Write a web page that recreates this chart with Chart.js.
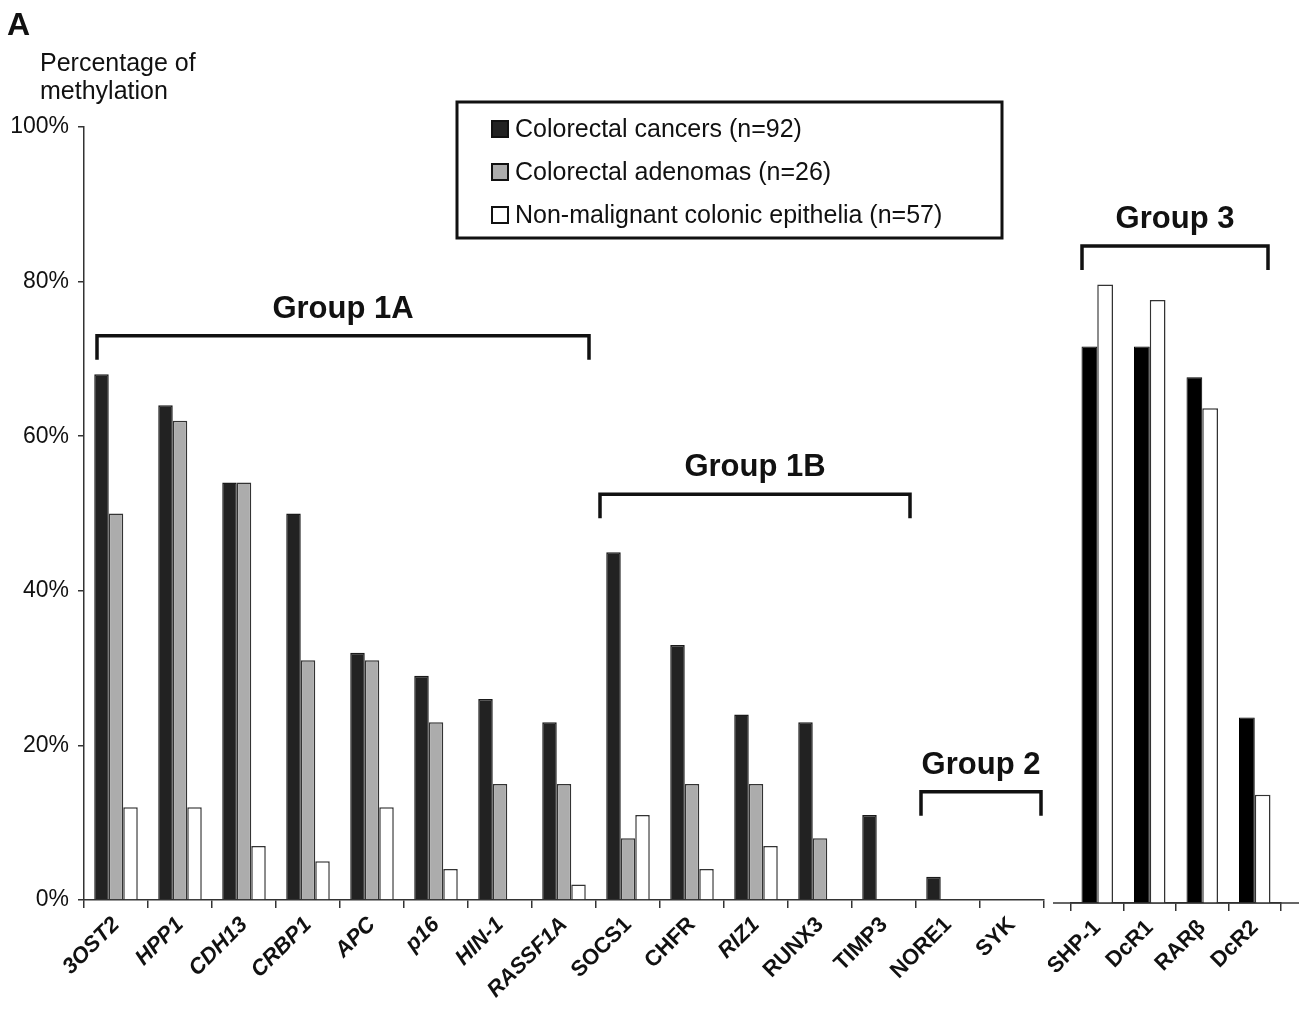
<!DOCTYPE html>
<html>
<head>
<meta charset="utf-8">
<script src="https://cdn.jsdelivr.net/npm/chart.js@4.4.0/dist/chart.umd.min.js"></script>
<style>
  html, body { margin: 0; padding: 0; background: #fff; }
  #wrap { position: relative; width: 1299px; height: 1017px; overflow: hidden; background: #fff; }
  #mainChart { position: absolute; left: 0; top: 0; }
  #sideChart { position: absolute; left: 1048px; top: 0; }
</style>
</head>
<body>
<div id="wrap">
  <canvas id="mainChart" width="1048" height="1017"></canvas>
  <canvas id="sideChart" width="251" height="1017"></canvas>
</div>
<script>
// donnees (pourcentage de methylation)
const genes = ['3OST2', 'HPP1', 'CDH13', 'CRBP1', 'APC', 'p16', 'HIN-1', 'RASSF1A',
               'SOCS1', 'CHFR', 'RIZ1', 'RUNX3', 'TIMP3', 'NORE1', 'SYK'];
const cancers  = [68, 64, 54, 50, 32, 29, 26, 23, 45, 33, 24, 23, 11, 3, 0];
const adenomas = [50, 62, 54, 31, 31, 23, 15, 15, 8, 15, 15, 8, 0, 0, 0];
const normals  = [12, 12, 7, 5, 12, 4, 0, 2, 11, 4, 7, 0, 0, 0, 0];

const group3Genes   = ['SHP-1', 'DcR1', 'RARβ', 'DcR2'];
const group3Cancers = [72, 72, 68, 24];
const group3Normals = [80, 78, 64, 14];

const yTicks = [0, 20, 40, 60, 80, 100];
const seriesLabels = ['Colorectal cancers (n=92)', 'Colorectal adenomas (n=26)', 'Non-malignant colonic epithelia (n=57)'];

// styles
const FONT = "'Liberation Sans', Arial, sans-serif";
const colBlack = '#222222';
const colGrey = '#acacac';
const colWhite = '#ffffff';
const italicGenes = ['3OST2', 'HPP1', 'CDH13', 'CRBP1', 'APC', 'p16', 'HIN-1', 'RASSF1A', 'RIZ1'];

// accolades des groupes (index de categories, niveau en %)
const mainGroups = [
  { name: 'Group 1A', from: 0, to: 7, level: 73, inL: 13, inR: 7 },
  { name: 'Group 1B', from: 8, to: 12, level: 52.5, inL: 4, inR: 6 },
  { name: 'Group 2', from: 13, to: 14, level: 14, inL: 5, inR: 3 }
];
const sideGroups = [
  { name: 'Group 3', from: 0, to: 3, level: 85, inL: 11, inR: 13 }
];

function drawBracket(ctx, chart, g) {
  const x = chart.scales.x, y = chart.scales.y;
  const half = (x.getPixelForValue(1) - x.getPixelForValue(0)) / 2;
  const left = x.getPixelForValue(g.from) - half + g.inL;
  const right = x.getPixelForValue(g.to) + half - g.inR;
  const top = y.getPixelForValue(g.level);
  ctx.save();
  ctx.strokeStyle = '#111';
  ctx.lineWidth = 3.5;
  ctx.lineJoin = 'miter';
  ctx.beginPath();
  ctx.moveTo(left, top + 24);
  ctx.lineTo(left, top);
  ctx.lineTo(right, top);
  ctx.lineTo(right, top + 24);
  ctx.stroke();
  ctx.fillStyle = '#111';
  ctx.font = 'bold 31px ' + FONT;
  ctx.textAlign = 'center';
  ctx.textBaseline = 'alphabetic';
  ctx.fillText(g.name, (left + right) / 2, top - 18);
  ctx.restore();
}

const mainDecor = {
  id: 'mainDecor',
  afterDraw(chart) {
    const ctx = chart.ctx;
    ctx.save();
    ctx.fillStyle = '#111';
    ctx.textAlign = 'left';
    ctx.textBaseline = 'alphabetic';
    ctx.font = 'bold 32px ' + FONT;
    ctx.fillText('A', 7, 35);
    ctx.font = '25px ' + FONT;
    ctx.fillText('Percentage of', 40, 71);
    ctx.fillText('methylation', 40, 99);

    // legende encadree
    ctx.strokeStyle = '#111';
    ctx.lineWidth = 3;
    ctx.strokeRect(457, 102, 545, 136);
    const colors = [colBlack, colGrey, colWhite];
    const rows = [129, 172, 215];
    ctx.font = '25px ' + FONT;
    ctx.textBaseline = 'middle';
    seriesLabels.forEach((lab, i) => {
      ctx.fillStyle = colors[i];
      ctx.fillRect(492, rows[i] - 8, 16, 16);
      ctx.lineWidth = 2;
      ctx.strokeStyle = '#111';
      ctx.strokeRect(492, rows[i] - 8, 16, 16);
      ctx.fillStyle = '#111';
      ctx.fillText(lab, 515, rows[i] + 1);
    });
    ctx.restore();

    mainGroups.forEach(g => drawBracket(ctx, chart, g));
  }
};

const sideDecor = {
  id: 'sideDecor',
  afterDraw(chart) {
    const ctx = chart.ctx;
    const y0 = chart.scales.y.getPixelForValue(0);
    ctx.save();
    ctx.strokeStyle = '#333';
    ctx.lineWidth = 1.5;
    ctx.beginPath();
    ctx.moveTo(5, y0);
    ctx.lineTo(chart.width, y0);
    ctx.stroke();
    ctx.restore();
    sideGroups.forEach(g => drawBracket(ctx, chart, g));
  }
};

const zeroless = c => (c.raw === 0 ? 0 : 1.5);

new Chart(document.getElementById('mainChart'), {
  type: 'bar',
  data: {
    labels: genes,
    datasets: [
      { label: seriesLabels[0], data: cancers, backgroundColor: colBlack, borderColor: '#1a1a1a', borderWidth: zeroless },
      { label: seriesLabels[1], data: adenomas, backgroundColor: colGrey, borderColor: '#333', borderWidth: zeroless },
      { label: seriesLabels[2], data: normals, backgroundColor: colWhite, borderColor: '#333', borderWidth: zeroless }
    ]
  },
  options: {
    responsive: false,
    animation: false,
    devicePixelRatio: 1,
    layout: { padding: { top: 127, right: 4, left: 0, bottom: 0 } },
    datasets: { bar: { categoryPercentage: 0.68, barPercentage: 1 } },
    plugins: { legend: { display: false }, tooltip: { enabled: false } },
    scales: {
      x: {
        grid: { offset: true, drawOnChartArea: false, drawTicks: true, tickLength: 8, color: '#333', lineWidth: 1.5 },
        border: { display: true, color: '#333', width: 1.5 },
        ticks: {
          autoSkip: false, maxRotation: 45, minRotation: 45, color: '#111', padding: 4,
          font: c => ({ family: FONT, size: 22, weight: 'bold',
                        style: italicGenes.includes(genes[c.index]) ? 'italic' : 'normal' })
        },
        afterFit: s => { s.height = 117; s.paddingLeft = 0; s.paddingRight = 0; }
      },
      y: {
        min: 0, max: 100,
        afterBuildTicks: s => { s.ticks = yTicks.map(v => ({ value: v })); },
        ticks: { callback: v => v + '%', color: '#111', padding: 9, font: { family: FONT, size: 23 } },
        grid: { drawOnChartArea: false, tickLength: 6, color: '#333', lineWidth: 1.5 },
        border: { display: true, color: '#333', width: 1.5 },
        afterFit: s => { s.width = 84; }
      }
    }
  },
  plugins: [mainDecor]
});

new Chart(document.getElementById('sideChart'), {
  type: 'bar',
  data: {
    labels: group3Genes,
    datasets: [
      { label: seriesLabels[0], data: group3Cancers, backgroundColor: '#000', borderColor: '#000', borderWidth: 1 },
      { label: seriesLabels[2], data: group3Normals, backgroundColor: colWhite, borderColor: '#333', borderWidth: 1.5 }
    ]
  },
  options: {
    responsive: false,
    animation: false,
    devicePixelRatio: 1,
    layout: { padding: { top: 130, right: 18, left: 23, bottom: 0 } },
    datasets: { bar: { categoryPercentage: 0.6, barPercentage: 1 } },
    plugins: { legend: { display: false }, tooltip: { enabled: false } },
    scales: {
      x: {
        grid: { offset: true, drawOnChartArea: false, drawTicks: true, tickLength: 8, color: '#333', lineWidth: 1.5 },
        border: { display: true, color: '#333', width: 1.5 },
        ticks: {
          autoSkip: false, maxRotation: 45, minRotation: 45, color: '#111', padding: 4,
          font: { family: FONT, size: 22, weight: 'bold' }
        },
        afterFit: s => { s.height = 114; s.paddingLeft = 0; s.paddingRight = 0; }
      },
      y: { display: false, min: 0, max: 100 }
    }
  },
  plugins: [sideDecor]
});
</script>
</body>
</html>
